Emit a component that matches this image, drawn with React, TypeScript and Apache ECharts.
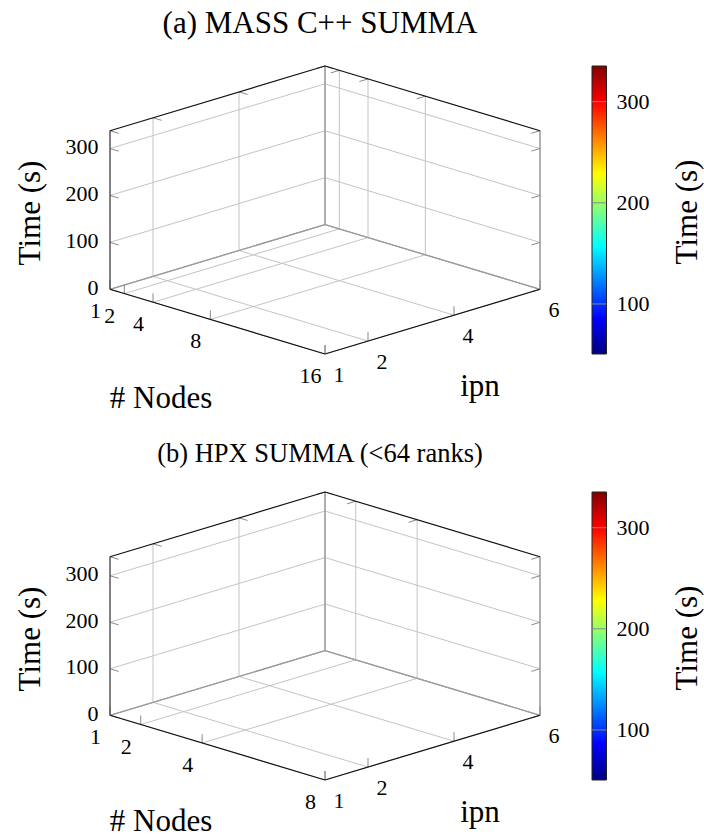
import React, { useEffect, useRef } from "react";
import * as echarts from "echarts";

// ---- data ----
const titles = ["(a) MASS C++ SUMMA", "(b) HPX SUMMA (<64 ranks)"];
const nodesTicksA = [1, 2, 4, 8, 16];
const nodesTicksB = [1, 2, 4, 8];
const ipnTicks = [1, 2, 4, 6];
const timeTicks = [0, 100, 200, 300];
const timeMaxA = 338;
const timeMaxB = 341;
const colorbarTicks = [100, 200, 300];
const colorRange = [50.5, 335.3];
const jetStops = [0, 0.125, 0.375, 0.625, 0.875, 1];
const jetColors = ["#000080", "#0000ff", "#00ffff", "#ffff00", "#ff0000", "#800000"];

// ---- layout ----
const FONT = "'Liberation Serif', 'Times New Roman', serif";
const R = 2.4513; // height of z range relative to depth
const BOX_LEFT = 110;
const BOX_W = 430;
const BOX_H = 288;
const PANEL_TOPS = [66, 492];
const TICK = 9;
const TITLE_SIZES = [31, 26.5];

type Panel = { nodes: number[]; zMax: number };
const panels: Panel[] = [
  { nodes: nodesTicksA, zMax: timeMaxA },
  { nodes: nodesTicksB, zMax: timeMaxB },
];

type Seg = { a: number[]; b?: number[]; d?: number[]; kind: string };

function buildSegments(p: Panel): Seg[] {
  const n0 = p.nodes[0];
  const n1 = p.nodes[p.nodes.length - 1];
  const p0 = ipnTicks[0];
  const p1 = ipnTicks[ipnTicks.length - 1];
  const zM = p.zMax;
  const s: Seg[] = [];
  // grid on floor
  p.nodes.forEach((n) => s.push({ a: [n, p0, 0], b: [n, p1, 0], kind: "grid" }));
  ipnTicks.forEach((q) => s.push({ a: [n0, q, 0], b: [n1, q, 0], kind: "grid" }));
  // grid on wall n = n0
  ipnTicks.forEach((q) => s.push({ a: [n0, q, 0], b: [n0, q, zM], kind: "grid" }));
  timeTicks.forEach((z) => s.push({ a: [n0, p0, z], b: [n0, p1, z], kind: "grid" }));
  // grid on wall p = p1
  p.nodes.forEach((n) => s.push({ a: [n, p1, 0], b: [n, p1, zM], kind: "grid" }));
  timeTicks.forEach((z) => s.push({ a: [n0, p1, z], b: [n1, p1, z], kind: "grid" }));
  // back edges
  s.push({ a: [n0, p1, 0], b: [n0, p1, zM], kind: "back" });
  s.push({ a: [n0, p0, 0], b: [n0, p1, 0], kind: "back" });
  s.push({ a: [n0, p1, 0], b: [n1, p1, 0], kind: "back" });
  s.push({ a: [n1, p1, 0], b: [n1, p1, zM], kind: "back" });
  // ticks
  p.nodes.forEach((n) => s.push({ a: [n, p0, 0], d: [0, 0, 1], kind: "tick" }));
  ipnTicks.forEach((q) => s.push({ a: [n1, q, 0], d: [0, 0, 1], kind: "tick" }));
  timeTicks.forEach((z) => s.push({ a: [n0, p0, z], d: [1, 0, 0], kind: "tick" }));
  timeTicks.forEach((z) => s.push({ a: [n1, p1, z], d: [0, -1, 0], kind: "tick" }));
  ipnTicks.forEach((q) => s.push({ a: [n0, q, zM], d: [1, 0, 0], kind: "tick" }));
  p.nodes.forEach((n) => s.push({ a: [n, p1, zM], d: [0, -1, 0], kind: "tick" }));
  // front edges
  s.push({ a: [n0, p0, 0], b: [n0, p0, zM], kind: "left" });
  s.push({ a: [n0, p0, zM], b: [n0, p1, zM], kind: "front" });
  s.push({ a: [n0, p1, zM], b: [n1, p1, zM], kind: "front" });
  s.push({ a: [n0, p0, 0], b: [n1, p0, 0], kind: "front" });
  s.push({ a: [n1, p0, 0], b: [n1, p1, 0], kind: "front" });
  return s;
}

type Lab = { a: number[]; text: string; dx: number; dy: number; align: string };
function buildLabels(p: Panel): Lab[] {
  const n0 = p.nodes[0];
  const n1 = p.nodes[p.nodes.length - 1];
  const p0 = ipnTicks[0];
  const out: Lab[] = [];
  p.nodes.forEach((n) => out.push({ a: [n, p0, 0], text: String(n), dx: -14.5, dy: 21.5, align: "center" }));
  ipnTicks.forEach((q) => out.push({ a: [n1, q, 0], text: String(q), dx: 14, dy: 20, align: "center" }));
  timeTicks.forEach((z) => out.push({ a: [n0, p0, z], text: String(z), dx: -11.5, dy: -2, align: "right" }));
  return out;
}

const styleOf: Record<string, { stroke: string; lineWidth: number; z2: number }> = {
  grid: { stroke: "#c4c4c4", lineWidth: 1, z2: 1 },
  back: { stroke: "#9a9a9a", lineWidth: 1.3, z2: 2 },
  tick: { stroke: "#8a8a8a", lineWidth: 1, z2: 3 },
  left: { stroke: "#404040", lineWidth: 1.2, z2: 4 },
  front: { stroke: "#111111", lineWidth: 1.2, z2: 5 },
};

export default function App() {
  const ref = useRef<HTMLDivElement>(null);
  useEffect(() => {
    if (!ref.current) return;
    const chart = echarts.init(ref.current, undefined, { renderer: "svg" });

    const grids: any[] = [];
    const xAxes: any[] = [];
    const yAxes: any[] = [];
    const series: any[] = [];
    const graphics: any[] = [];

    panels.forEach((panel, pi) => {
      const top = PANEL_TOPS[pi];
      const n0 = panel.nodes[0];
      const n1 = panel.nodes[panel.nodes.length - 1];
      const p0 = ipnTicks[0];
      const p1 = ipnTicks[ipnTicks.length - 1];
      const proj = (q: number[]) => {
        const fn = (q[0] - n0) / (n1 - n0);
        const fp = (q[1] - p0) / (p1 - p0);
        const fz = q[2] / panel.zMax;
        return [fn + fp, fp - fn + fz * R];
      };
      const gi = grids.length;
      grids.push({ left: BOX_LEFT, top, width: BOX_W, height: BOX_H });
      xAxes.push({ gridIndex: gi, type: "value", min: 0, max: 2, show: false });
      yAxes.push({ gridIndex: gi, type: "value", min: -1, max: 1 + R, show: false });

      const segs = buildSegments(panel);
      series.push({
        type: "custom",
        xAxisIndex: gi,
        yAxisIndex: gi,
        silent: true,
        data: segs.map((s) => proj(s.a)),
        renderItem: (params: any, api: any) => {
          const s = segs[params.dataIndex];
          const P = (q: number[]) => api.coord(proj(q));
          const a = P(s.a);
          let b: number[];
          if (s.kind === "tick" && s.d) {
            const q = P([s.a[0] + s.d[0], s.a[1] + s.d[1], s.a[2] + s.d[2] * panel.zMax * 0.1]);
            const dx = q[0] - a[0];
            const dy = q[1] - a[1];
            const L = Math.hypot(dx, dy) || 1;
            b = [a[0] + (dx / L) * TICK, a[1] + (dy / L) * TICK];
          } else {
            b = P(s.b as number[]);
          }
          const st = styleOf[s.kind];
          return {
            type: "line",
            z2: st.z2,
            shape: { x1: a[0], y1: a[1], x2: b[0], y2: b[1] },
            style: { stroke: st.stroke, lineWidth: st.lineWidth, fill: null },
          };
        },
      });

      const labs = buildLabels(panel);
      series.push({
        type: "custom",
        xAxisIndex: gi,
        yAxisIndex: gi,
        silent: true,
        data: labs.map((l) => proj(l.a)),
        renderItem: (params: any, api: any) => {
          const l = labs[params.dataIndex];
          const a = api.coord(proj(l.a));
          return {
            type: "text",
            x: a[0] + l.dx,
            y: a[1] + l.dy,
            style: {
              text: l.text,
              fill: "#000",
              font: `22px ${FONT}`,
              lineHeight: 15,
              align: l.align,
              verticalAlign: "middle",
            },
          };
        },
      });

      // colorbar
      const ci = grids.length;
      grids.push({ left: 592, top, width: 14.5, height: BOX_H });
      xAxes.push({ gridIndex: ci, type: "value", min: 0, max: 1, show: false });
      yAxes.push({
        gridIndex: ci,
        type: "value",
        min: colorRange[0],
        max: colorRange[1],
        position: "right",
        axisLine: { show: false },
        splitLine: { show: false },
        axisTick: { show: false },
        axisLabel: {
          customValues: colorbarTicks,
          margin: 10,
          color: "#000",
          fontSize: 22,
          fontFamily: FONT,
        },
      });
      series.push({
        type: "custom",
        xAxisIndex: ci,
        yAxisIndex: ci,
        silent: true,
        data: [[0, colorRange[0]]],
        renderItem: (_p: any, api: any) => {
          const tl = api.coord([0, colorRange[1]]);
          const br = api.coord([1, colorRange[0]]);
          const children: any[] = [
            {
              type: "rect",
              shape: { x: tl[0], y: tl[1], width: br[0] - tl[0], height: br[1] - tl[1] },
              style: {
                fill: new echarts.graphic.LinearGradient(
                  0, 1, 0, 0,
                  jetStops.map((o, i) => ({ offset: o, color: jetColors[i] }))
                ),
                stroke: "#222",
                lineWidth: 1,
              },
            },
          ];
          colorbarTicks.forEach((t) => {
            const l = api.coord([0, t]);
            const r = api.coord([1, t]);
            children.push({
              type: "line",
              shape: { x1: l[0], y1: l[1], x2: r[0], y2: r[1] },
              style: { stroke: "#8a8a8a", lineWidth: 1 },
            });
          });
          return { type: "group", children };
        },
      });

      // texts
      const off = top - 66;
      graphics.push({
        type: "text",
        x: 320,
        y: 22 + off + (pi === 1 ? 5 : 0),
        style: { text: titles[pi], fill: "#000", font: `${TITLE_SIZES[pi]}px ${FONT}`, align: "center", verticalAlign: "middle" },
      });
      graphics.push({
        type: "text",
        x: 29,
        y: 213 + off,
        rotation: Math.PI / 2,
        style: { text: "Time (s)", fill: "#000", font: `31px ${FONT}`, align: "center", verticalAlign: "middle" },
      });
      graphics.push({
        type: "text",
        x: 686,
        y: 212 + off,
        rotation: Math.PI / 2,
        style: { text: "Time (s)", fill: "#000", font: `31px ${FONT}`, align: "center", verticalAlign: "middle" },
      });
      graphics.push({
        type: "text",
        x: 161,
        y: 397 + off - (pi === 1 ? 3 : 0),
        style: { text: "# Nodes", fill: "#000", font: `31px ${FONT}`, align: "center", verticalAlign: "middle" },
      });
      graphics.push({
        type: "text",
        x: 480,
        y: 385 + off,
        style: { text: "ipn", fill: "#000", font: `31px ${FONT}`, align: "center", verticalAlign: "middle" },
      });
    });

    chart.setOption({
      animation: false,
      backgroundColor: "#fff",
      grid: grids,
      xAxis: xAxes,
      yAxis: yAxes,
      series,
      graphic: graphics,
    });
    return () => chart.dispose();
  }, []);
  return (
    <div
      ref={ref}
      style={{ position: "absolute", left: 0, top: 0, width: 704, height: 840 }}
    />
  );
}
